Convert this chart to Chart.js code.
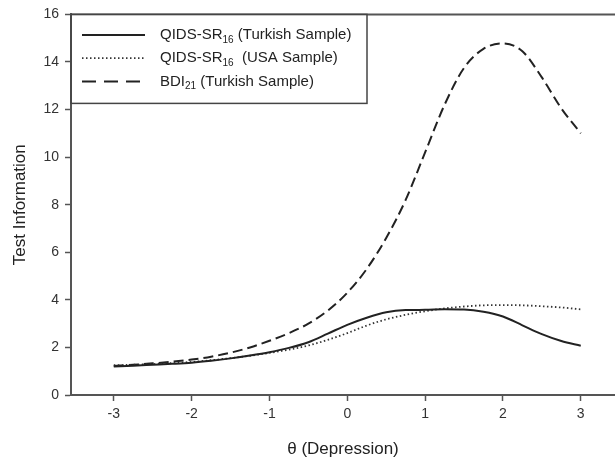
<!DOCTYPE html>
<html>
<head>
<meta charset="utf-8">
<script src="https://cdn.jsdelivr.net/npm/chart.js@4"></script>
<style>
  html, body { margin: 0; padding: 0; background: #fff; }
  #wrap { width: 615px; height: 463px; }
</style>
</head>
<body>
<div id="wrap"><canvas id="c" width="615" height="463"></canvas></div>
<script>
// ---- data ----
const theta = [-3,-2.75,-2.5,-2.25,-2,-1.75,-1.5,-1.25,-1,-0.75,-0.5,-0.25,0,0.25,0.5,0.75,1,1.25,1.5,1.75,2,2.25,2.5,2.75,3];
const qidsTurkish = [1.20,1.23,1.27,1.31,1.36,1.44,1.54,1.66,1.80,1.98,2.22,2.58,2.95,3.25,3.48,3.57,3.58,3.60,3.59,3.50,3.30,2.93,2.56,2.27,2.07];
const qidsUSA = [1.25,1.27,1.30,1.34,1.39,1.46,1.55,1.65,1.77,1.91,2.08,2.32,2.60,2.92,3.18,3.37,3.52,3.64,3.72,3.77,3.78,3.77,3.73,3.68,3.60];
const bdiTurkish = [1.22,1.27,1.33,1.40,1.49,1.61,1.78,2.00,2.28,2.60,3.00,3.55,4.30,5.30,6.60,8.20,10.2,12.2,13.75,14.55,14.78,14.45,13.35,12.05,11.0];
const xTicks = [-3,-2,-1,0,1,2,3];
const yTicks = [0,2,4,6,8,10,12,14,16];
const legendMain = ['QIDS-SR', 'QIDS-SR', 'BDI'];
const legendSub = ['16', '16', '21'];
const legendRest = [' (Turkish Sample)', '  (USA Sample)', ' (Turkish Sample)'];
const xTitle = '\u03b8 (Depression)';
const yTitle = 'Test Information';

const FONT = '"Liberation Sans", Arial, Helvetica, sans-serif';
const INK = '#222';
const AXIS = '#555';

function pts(vals) { return theta.map((t, i) => ({ x: t, y: vals[i] })); }

const legendDash = [[], [1.5, 2.5], [14, 8]];

const framePlugin = {
  id: 'frame',
  afterDraw(chart) {
    const { ctx, chartArea: a } = chart;
    ctx.save();
    // top frame line
    ctx.strokeStyle = AXIS;
    ctx.lineWidth = 2;
    ctx.beginPath();
    ctx.moveTo(a.left, a.top);
    ctx.lineTo(a.right, a.top);
    ctx.stroke();
    // legend box
    const bx = a.left, by = a.top, bw = 296, bh = 89;
    ctx.fillStyle = '#fff';
    ctx.fillRect(bx + 1, by + 1, bw - 1, bh - 1);
    ctx.strokeStyle = '#444';
    ctx.lineWidth = 1.5;
    ctx.strokeRect(bx, by, bw, bh);
    // entries
    chart.data.datasets.forEach((ds, i) => {
      const y = by + 20.5 + i * 23.3;
      ctx.strokeStyle = ds.borderColor;
      ctx.lineWidth = ds.borderWidth;
      ctx.setLineDash(legendDash[i]);
      ctx.beginPath();
      ctx.moveTo(bx + 11, y);
      ctx.lineTo(bx + 74, y);
      ctx.stroke();
      ctx.setLineDash([]);
      ctx.fillStyle = INK;
      ctx.textBaseline = 'middle';
      let tx = bx + 89;
      ctx.font = '15px ' + FONT;
      ctx.fillText(legendMain[i], tx, y);
      tx += ctx.measureText(legendMain[i]).width;
      ctx.font = '10px ' + FONT;
      ctx.fillText(legendSub[i], tx, y + 5);
      tx += ctx.measureText(legendSub[i]).width;
      ctx.font = '15px ' + FONT;
      ctx.fillText(legendRest[i], tx, y);
    });
    ctx.restore();
  }
};

new Chart(document.getElementById('c'), {
  type: 'line',
  data: {
    datasets: [
      { label: 'QIDS-SR16 (Turkish Sample)', data: pts(qidsTurkish), borderColor: INK, borderWidth: 2, borderDash: [], pointRadius: 0, cubicInterpolationMode: 'monotone', fill: false },
      { label: 'QIDS-SR16 (USA Sample)', data: pts(qidsUSA), borderColor: '#333', borderWidth: 1.8, borderDash: [1.5, 2.5], pointRadius: 0, cubicInterpolationMode: 'monotone', fill: false },
      { label: 'BDI21 (Turkish Sample)', data: pts(bdiTurkish), borderColor: INK, borderWidth: 2, borderDash: [10, 5], pointRadius: 0, cubicInterpolationMode: 'monotone', fill: false }
    ]
  },
  options: {
    responsive: false,
    devicePixelRatio: 1,
    animation: false,
    layout: { padding: { top: 13, right: 0, left: 0, bottom: 0 } },
    plugins: { legend: { display: false }, tooltip: { enabled: false } },
    scales: {
      x: {
        type: 'linear',
        min: -3.55,
        max: 3.44,
        afterBuildTicks(s) { s.ticks = xTicks.map(v => ({ value: v })); },
        afterFit(s) { s.height = 68; },
        ticks: { font: { family: FONT, size: 14 }, color: '#333', padding: 5, maxRotation: 0 },
        grid: { display: true, drawOnChartArea: false, drawTicks: true, tickLength: 6, tickColor: AXIS, tickWidth: 1.5 },
        border: { display: true, color: AXIS, width: 2 },
        title: { display: true, text: xTitle, font: { family: FONT, size: 17 }, color: INK, padding: { top: 0, bottom: 3 } }
      },
      y: {
        type: 'linear',
        min: 0,
        max: 16,
        afterBuildTicks(s) { s.ticks = yTicks.map(v => ({ value: v })); },
        afterFit(s) { s.width = 71; },
        ticks: { font: { family: FONT, size: 14 }, color: '#333', padding: 6 },
        grid: { display: true, drawOnChartArea: false, drawTicks: true, tickLength: 6, tickColor: AXIS, tickWidth: 1.5 },
        border: { display: true, color: AXIS, width: 2 },
        title: { display: true, text: yTitle, font: { family: FONT, size: 17 }, color: INK, padding: { top: 10, bottom: 0 } }
      }
    }
  },
  plugins: [framePlugin]
});
</script>
</body>
</html>
